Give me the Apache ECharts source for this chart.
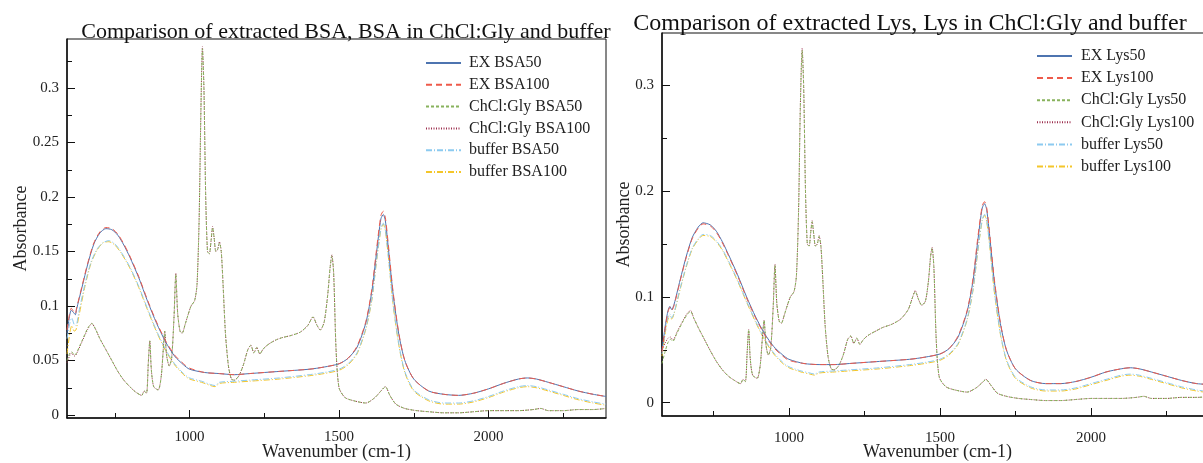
<!DOCTYPE html>
<html><head><meta charset="utf-8">
<script src="https://cdn.jsdelivr.net/npm/echarts@6/dist/echarts.min.js"></script>
<style>html,body{margin:0;padding:0;background:#fff}#c{width:1203px;height:463px}</style>
</head><body><div id="c"></div>
<script>
// ---------- BSA panel ----------
const bsaExWave = [590,598,604,612,618,622,640,660,680,700,720,740,760,780,800,830,860,890,920,950,980,1000,1050,1100,1150,1200,1300,1400,1450,1500,1530,1560,1590,1610,1625,1640,1648,1655,1665,1680,1700,1720,1750,1800,1850,1900,1950,2000,2050,2100,2130,2160,2200,2250,2300,2350,2393];
const exBSA50  = [0.075,0.090,0.096,0.094,0.092,0.097,0.117,0.139,0.157,0.167,0.171,0.170,0.165,0.156,0.145,0.126,0.104,0.084,0.067,0.054,0.046,0.042,0.039,0.038,0.037,0.038,0.040,0.042,0.044,0.047,0.052,0.062,0.085,0.114,0.148,0.180,0.184,0.178,0.153,0.113,0.074,0.050,0.033,0.022,0.019,0.018,0.020,0.024,0.029,0.033,0.034,0.033,0.030,0.026,0.022,0.019,0.017];
const exBSA100 = [0.078,0.092,0.098,0.095,0.093,0.098,0.118,0.140,0.158,0.168,0.172,0.171,0.166,0.157,0.146,0.127,0.105,0.085,0.068,0.055,0.047,0.043,0.039,0.038,0.037,0.038,0.040,0.042,0.044,0.047,0.052,0.063,0.086,0.116,0.151,0.183,0.187,0.181,0.156,0.115,0.075,0.050,0.033,0.022,0.019,0.018,0.020,0.024,0.029,0.033,0.034,0.033,0.030,0.026,0.022,0.019,0.017];
const bsaBufWave = [590,600,606,614,620,630,650,670,690,710,730,750,770,800,830,860,890,920,950,980,1000,1040,1070,1085,1100,1150,1200,1300,1400,1450,1500,1530,1560,1590,1610,1625,1640,1648,1655,1665,1680,1700,1720,1750,1800,1850,1900,1950,2000,2050,2100,2130,2160,2200,2250,2300,2350,2393];
const bufBSA50  = [0.070,0.085,0.089,0.083,0.082,0.095,0.120,0.140,0.152,0.158,0.160,0.157,0.150,0.136,0.118,0.097,0.077,0.060,0.047,0.038,0.034,0.031,0.028,0.027,0.030,0.031,0.032,0.034,0.037,0.039,0.042,0.047,0.057,0.080,0.107,0.141,0.171,0.176,0.170,0.146,0.104,0.065,0.040,0.023,0.014,0.011,0.011,0.013,0.017,0.022,0.026,0.027,0.026,0.023,0.019,0.015,0.012,0.010];
const bufBSA100 = [0.056,0.076,0.082,0.077,0.078,0.091,0.118,0.139,0.151,0.158,0.159,0.156,0.149,0.135,0.117,0.096,0.076,0.059,0.046,0.037,0.033,0.030,0.027,0.026,0.029,0.030,0.031,0.033,0.036,0.038,0.041,0.046,0.056,0.079,0.106,0.140,0.170,0.175,0.169,0.145,0.103,0.064,0.039,0.022,0.013,0.010,0.010,0.012,0.016,0.021,0.025,0.026,0.025,0.022,0.018,0.014,0.011,0.009];
const bsaDesWave = [590,600,606,614,620,640,660,673,685,700,720,740,760,780,800,820,840,848,856,862,867,872,880,895,905,912,917,923,932,940,948,954,960,968,975,985,995,1005,1017,1025,1032,1038,1043,1048,1054,1060,1066,1072,1077,1082,1088,1094,1100,1106,1112,1120,1130,1140,1150,1165,1180,1195,1205,1215,1225,1235,1245,1255,1270,1290,1310,1340,1370,1395,1413,1425,1437,1450,1462,1470,1476,1482,1490,1500,1520,1550,1590,1620,1640,1655,1670,1690,1720,1760,1800,1850,1900,1950,2000,2050,2100,2150,2175,2200,2250,2300,2350,2393];
const desBSA50  = [0.050,0.057,0.058,0.055,0.056,0.068,0.080,0.084,0.079,0.070,0.060,0.050,0.040,0.032,0.026,0.021,0.018,0.022,0.020,0.048,0.068,0.042,0.026,0.023,0.035,0.060,0.077,0.055,0.045,0.052,0.090,0.129,0.094,0.077,0.075,0.083,0.092,0.100,0.105,0.120,0.180,0.280,0.336,0.300,0.200,0.150,0.148,0.160,0.172,0.163,0.150,0.152,0.158,0.150,0.120,0.075,0.045,0.033,0.032,0.036,0.046,0.060,0.064,0.057,0.062,0.056,0.060,0.063,0.066,0.069,0.071,0.073,0.076,0.082,0.090,0.083,0.078,0.085,0.110,0.135,0.146,0.130,0.060,0.025,0.016,0.013,0.011,0.016,0.022,0.026,0.018,0.010,0.006,0.004,0.003,0.002,0.002,0.003,0.004,0.004,0.004,0.005,0.006,0.004,0.004,0.005,0.005,0.006];
const desBSA100 = [0.048,0.055,0.057,0.054,0.055,0.067,0.079,0.084,0.079,0.070,0.060,0.050,0.040,0.032,0.026,0.021,0.018,0.022,0.020,0.048,0.068,0.042,0.026,0.023,0.035,0.060,0.077,0.055,0.045,0.052,0.090,0.130,0.094,0.077,0.075,0.083,0.092,0.100,0.105,0.120,0.180,0.281,0.338,0.301,0.200,0.150,0.148,0.160,0.173,0.163,0.150,0.152,0.159,0.150,0.120,0.075,0.045,0.033,0.032,0.036,0.046,0.060,0.064,0.057,0.062,0.056,0.060,0.063,0.066,0.069,0.071,0.073,0.076,0.082,0.090,0.083,0.078,0.085,0.110,0.135,0.147,0.130,0.060,0.025,0.016,0.013,0.011,0.016,0.022,0.026,0.018,0.010,0.006,0.004,0.003,0.002,0.002,0.003,0.004,0.004,0.004,0.005,0.006,0.004,0.004,0.005,0.005,0.006];

// ---------- Lys panel ----------
const lysExWave = [580,592,600,606,612,620,640,660,680,700,716,740,760,780,800,830,860,890,920,950,980,1000,1050,1100,1150,1200,1300,1400,1450,1500,1530,1560,1590,1610,1625,1640,1648,1655,1665,1680,1700,1720,1750,1800,1850,1900,1950,2000,2050,2100,2130,2160,2200,2250,2300,2350,2404];
const exLys50  = [0.050,0.075,0.087,0.091,0.088,0.093,0.116,0.138,0.156,0.166,0.170,0.168,0.162,0.152,0.140,0.121,0.100,0.081,0.065,0.053,0.045,0.041,0.037,0.036,0.036,0.037,0.039,0.041,0.043,0.046,0.051,0.062,0.086,0.116,0.152,0.184,0.188,0.182,0.157,0.115,0.075,0.050,0.032,0.021,0.018,0.018,0.020,0.024,0.029,0.032,0.033,0.032,0.029,0.025,0.021,0.018,0.017];
const exLys100 = [0.048,0.073,0.086,0.090,0.087,0.092,0.115,0.137,0.155,0.165,0.169,0.167,0.161,0.151,0.139,0.120,0.099,0.080,0.064,0.052,0.044,0.040,0.037,0.036,0.036,0.037,0.039,0.041,0.043,0.046,0.051,0.063,0.087,0.118,0.155,0.186,0.190,0.184,0.159,0.117,0.076,0.050,0.032,0.021,0.018,0.018,0.020,0.024,0.029,0.032,0.033,0.032,0.029,0.025,0.021,0.018,0.017];
const lysBufWave = [580,592,600,606,612,620,640,660,680,700,716,740,760,780,800,830,860,890,920,950,980,1000,1040,1070,1085,1100,1150,1200,1300,1400,1450,1500,1530,1560,1590,1610,1625,1640,1648,1655,1665,1680,1700,1720,1750,1800,1850,1900,1950,2000,2050,2100,2130,2160,2200,2250,2300,2350,2404];
const bufLys50  = [0.046,0.070,0.081,0.084,0.080,0.085,0.108,0.129,0.146,0.155,0.159,0.158,0.153,0.145,0.134,0.116,0.096,0.077,0.060,0.047,0.038,0.034,0.030,0.028,0.027,0.029,0.030,0.031,0.033,0.036,0.038,0.041,0.046,0.056,0.079,0.108,0.143,0.173,0.178,0.172,0.148,0.106,0.066,0.041,0.024,0.015,0.012,0.012,0.014,0.018,0.022,0.026,0.027,0.026,0.023,0.019,0.015,0.012,0.010];
const bufLys100 = [0.044,0.068,0.079,0.082,0.079,0.084,0.107,0.128,0.145,0.154,0.158,0.157,0.152,0.144,0.133,0.115,0.095,0.076,0.059,0.046,0.037,0.033,0.029,0.027,0.026,0.028,0.029,0.030,0.032,0.035,0.037,0.040,0.045,0.055,0.078,0.107,0.142,0.172,0.177,0.171,0.147,0.105,0.065,0.040,0.023,0.014,0.011,0.011,0.013,0.017,0.021,0.025,0.026,0.025,0.022,0.018,0.014,0.011,0.009];
const lysDesWave = [580,590,600,608,616,630,650,665,675,685,700,720,740,760,780,800,820,840,848,856,862,867,872,880,895,905,912,918,924,932,940,948,954,960,968,975,985,995,1005,1017,1025,1032,1038,1044,1049,1055,1061,1067,1072,1077,1082,1088,1094,1100,1106,1112,1120,1130,1140,1150,1165,1180,1195,1205,1215,1225,1235,1245,1255,1270,1290,1310,1340,1370,1395,1410,1418,1430,1440,1452,1462,1469,1474,1480,1488,1498,1520,1550,1590,1620,1640,1652,1670,1690,1720,1760,1800,1850,1900,1950,2000,2050,2100,2150,2175,2200,2250,2300,2350,2404];
const desLys50  = [0.037,0.048,0.057,0.060,0.058,0.066,0.077,0.084,0.086,0.080,0.071,0.060,0.049,0.039,0.031,0.025,0.021,0.018,0.022,0.020,0.048,0.069,0.042,0.026,0.023,0.035,0.060,0.078,0.055,0.045,0.052,0.090,0.130,0.094,0.077,0.075,0.083,0.092,0.100,0.105,0.120,0.180,0.280,0.333,0.298,0.200,0.150,0.148,0.160,0.171,0.160,0.148,0.150,0.157,0.148,0.118,0.073,0.043,0.032,0.031,0.035,0.045,0.060,0.063,0.056,0.061,0.055,0.059,0.062,0.065,0.068,0.071,0.074,0.079,0.088,0.100,0.105,0.097,0.092,0.096,0.115,0.138,0.146,0.128,0.058,0.024,0.015,0.012,0.010,0.014,0.019,0.022,0.016,0.009,0.006,0.004,0.003,0.002,0.002,0.003,0.004,0.004,0.004,0.005,0.006,0.004,0.004,0.005,0.005,0.006];
const desLys100 = [0.050,0.056,0.061,0.062,0.059,0.067,0.078,0.085,0.087,0.080,0.071,0.060,0.049,0.039,0.031,0.025,0.021,0.018,0.022,0.020,0.048,0.069,0.042,0.026,0.023,0.035,0.060,0.078,0.055,0.045,0.052,0.090,0.131,0.094,0.077,0.075,0.083,0.092,0.100,0.105,0.120,0.180,0.281,0.335,0.299,0.200,0.150,0.148,0.160,0.172,0.160,0.148,0.150,0.158,0.148,0.118,0.073,0.043,0.032,0.031,0.035,0.045,0.060,0.063,0.056,0.061,0.055,0.059,0.062,0.065,0.068,0.071,0.074,0.079,0.088,0.100,0.106,0.097,0.092,0.096,0.115,0.138,0.147,0.128,0.058,0.024,0.015,0.012,0.010,0.014,0.019,0.022,0.016,0.009,0.006,0.004,0.003,0.002,0.002,0.003,0.004,0.004,0.004,0.005,0.006,0.004,0.004,0.005,0.005,0.006];

// ---------- labels / ticks ----------
const bsaNames = ['EX BSA50','EX BSA100','ChCl:Gly BSA50','ChCl:Gly BSA100','buffer BSA50','buffer BSA100'];
const lysNames = ['EX Lys50','EX Lys100','ChCl:Gly Lys50','ChCl:Gly Lys100','buffer Lys50','buffer Lys100'];
const xMajorTicks = [1000,1500,2000];
const xMinorTicks = [750,1250,1750,2250];
const bsaYMajor = [0,0.05,0.1,0.15,0.2,0.25,0.3];
const bsaYMinor = [0.025,0.075,0.125,0.175,0.225,0.275,0.325];
const lysYMajor = [0,0.1,0.2,0.3];
const lysYMinor = [0.05,0.15,0.25];

const zip = (xs, ys) => xs.map((x,i)=>[x, ys[i]]);
const FONT = '"Liberation Serif", "DejaVu Serif", serif';
const styles = [
  {color:'#4d74b0', type:'solid'},
  {color:'#ee5a4a', type:[6,4]},
  {color:'#88b25c', type:[3,2]},
  {color:'#9c2f4e', type:[1,1.5]},
  {color:'#8ccaf0', type:[6,2,1,2]},
  {color:'#f4c62a', type:[6,2,1,2]}
];

function mkSeries(names, data, idx){
  return names.map((n,i)=>({
    name:n, type:'line', xAxisIndex:idx*2, yAxisIndex:idx*2, data:data[i],
    showSymbol:false, symbol:'circle', symbolSize:0, smooth:0.25, animation:false,
    lineStyle:{color:styles[i].color, width:1, type:styles[i].type},
    itemStyle:{color:styles[i].color}
  }));
}

const bsaData = [zip(bsaExWave,exBSA50), zip(bsaExWave,exBSA100), zip(bsaDesWave,desBSA50), zip(bsaDesWave,desBSA100), zip(bsaBufWave,bufBSA50), zip(bsaBufWave,bufBSA100)];
const lysData = [zip(lysExWave,exLys50), zip(lysExWave,exLys100), zip(lysDesWave,desLys50), zip(lysDesWave,desLys100), zip(lysBufWave,bufLys50), zip(lysBufWave,bufLys100)];
const order = [5,4,3,2,0,1];
const reorder = arr => order.map(i=>arr[i]);

const labelStyle = {color:'#222', fontFamily:FONT, fontSize:15};
function xAxes(grid, min, max, margin, nameGap){
  return [
    {type:'value', gridIndex:grid, min, max, name:'Wavenumber (cm-1)', nameLocation:'middle', nameGap,
     nameMoveOverlap:false,
     nameTextStyle:{color:'#222', fontFamily:FONT, fontSize:18},
     axisLine:{show:true, onZero:false, lineStyle:{color:'#111', width:1.5}},
     axisTick:{show:true, inside:true, length:8, customValues:xMajorTicks, lineStyle:{color:'#111', width:1}},
     axisLabel:{...labelStyle, margin, customValues:xMajorTicks, formatter:v=>String(Math.round(v))},
     splitLine:{show:false}},
    {type:'value', gridIndex:grid, min, max, position:'bottom',
     axisLine:{show:false, onZero:false},
     axisTick:{show:true, inside:true, length:5, customValues:xMinorTicks, lineStyle:{color:'#111', width:1}},
     axisLabel:{show:false}, splitLine:{show:false}}
  ];
}
function yAxes(grid, min, max, major, minor, nameGap){
  return [
    {type:'value', gridIndex:grid, min, max, name:'Absorbance', nameLocation:'middle', nameGap,
     nameMoveOverlap:false,
     nameTextStyle:{color:'#222', fontFamily:FONT, fontSize:18},
     axisLine:{show:true, onZero:false, lineStyle:{color:'#111', width:1.5}},
     axisTick:{show:true, inside:true, length:8, customValues:major, lineStyle:{color:'#111', width:1}},
     axisLabel:{...labelStyle, margin:8, customValues:major, formatter:v=>String(+v.toFixed(3))},
     splitLine:{show:false}},
    {type:'value', gridIndex:grid, min, max, position:'left',
     axisLine:{show:false, onZero:false},
     axisTick:{show:true, inside:true, length:5, customValues:minor, lineStyle:{color:'#111', width:1}},
     axisLabel:{show:false}, splitLine:{show:false}}
  ];
}

const chart = echarts.init(document.getElementById('c'), null, {renderer:'canvas'});
const bsaSeries = mkSeries(bsaNames, bsaData, 0);
const lysSeries = mkSeries(lysNames, lysData, 1);
const legendCommon = {orient:'vertical', itemWidth:35, itemHeight:16, selectedMode:false,
  itemStyle:{opacity:0, borderWidth:0},
  textStyle:{fontFamily:FONT, fontSize:16, color:'#222', lineHeight:16}};
chart.setOption({
  animation:false,
  backgroundColor:'#fff',
  title:[
    {text:'Comparison of extracted BSA, BSA in ChCl:Gly and buffer', left:341, top:16, textAlign:'center',
     textStyle:{fontFamily:FONT, fontSize:22, fontWeight:'normal', color:'#111'}},
    {text:'Comparison of extracted Lys, Lys in ChCl:Gly and buffer', left:905, top:7, textAlign:'center',
     textStyle:{fontFamily:FONT, fontSize:24, fontWeight:'normal', color:'#111'}}
  ],
  grid:[
    {left:67, top:39, width:539, height:379, outerBoundsMode:'none', containLabel:false, show:true, borderColor:'#111', borderWidth:1, backgroundColor:'transparent'},
    {left:662, top:33, width:551, height:383, outerBoundsMode:'none', containLabel:false, show:true, borderColor:'#111', borderWidth:1, backgroundColor:'transparent'}
  ],
  legend:[
    {...legendCommon, data:bsaNames, left:420, top:50, itemGap:5.8,
     textStyle:{...legendCommon.textStyle, padding:[0,0,0,3]}},
    {...legendCommon, data:lysNames, left:1031, top:43, itemGap:6.1,
     textStyle:{...legendCommon.textStyle, padding:[0,0,0,4]}}
  ],
  xAxis:[...xAxes(0,590,2393,12,25), ...xAxes(1,580,2404,15,27)],
  yAxis:[...yAxes(0,-0.00275,0.345,bsaYMajor,bsaYMinor,37), ...yAxes(1,-0.0126,0.3494,lysYMajor,lysYMinor,29)],
  series:[...reorder(bsaSeries), ...reorder(lysSeries)]
});
</script></body></html>
